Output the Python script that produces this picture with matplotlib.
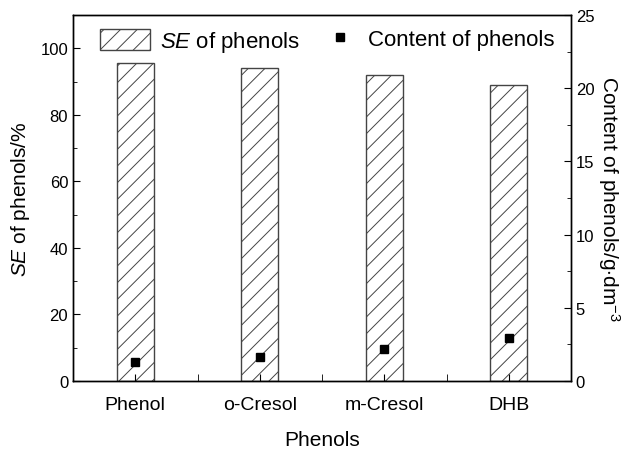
import matplotlib
matplotlib.use("Agg")
import matplotlib.pyplot as plt
import numpy as np
from matplotlib.ticker import MultipleLocator, FixedLocator
from matplotlib.legend_handler import HandlerLine2D

plt.rcParams['font.family'] = ['Liberation Sans', 'DejaVu Sans']
plt.rcParams['mathtext.fontset'] = 'custom'
plt.rcParams['mathtext.rm'] = 'Liberation Sans'
plt.rcParams['mathtext.it'] = 'Liberation Sans:italic'
plt.rcParams['hatch.linewidth'] = 0.7

categories = ['Phenol', 'o-Cresol', 'm-Cresol', 'DHB']
se_values = [95.7, 94.0, 92.0, 89.0]
content_values = [1.3, 1.66, 2.19, 2.94]

fig = plt.figure(figsize=(6.35, 4.52), dpi=100)
ax = fig.add_axes([73/635, 1 - 382/452, (571-73)/635, (382-16)/452])
x = np.arange(1, len(categories) + 1)
bars = ax.bar(x, se_values, width=0.3, color='white', edgecolor='#444444',
              hatch='//', linewidth=1.0, label='$\\it{SE}$ of phenols')
ax.set_xlim(0.5, 4.5)
ax.set_ylim(0, 110)
ax.yaxis.set_major_locator(FixedLocator([0, 20, 40, 60, 80, 100]))
ax.yaxis.set_minor_locator(FixedLocator([10, 30, 50, 70, 90]))
ax.set_xticks(x)
ax.set_xticklabels(categories, fontsize=14)
ax.xaxis.set_minor_locator(FixedLocator([1.5, 2.5, 3.5]))
ax.tick_params(axis='both', which='both', direction='in')
ax.tick_params(axis='y', which='major', length=5, labelsize=12)
ax.tick_params(axis='y', which='minor', length=3)
ax.tick_params(axis='x', which='major', length=5, pad=11)
ax.tick_params(axis='x', which='minor', length=5)
ax.set_xlabel('Phenols', fontsize=15, labelpad=12)
ax.set_ylabel('$\\it{SE}$ of phenols/%', fontsize=15, labelpad=6)

ax2 = ax.twinx()
pts = ax2.plot(x, content_values, 's', color='black', markersize=5.5,
               label='Content of phenols')
ax2.set_ylim(0, 25)
ax2.yaxis.set_major_locator(MultipleLocator(5))
ax2.yaxis.set_minor_locator(MultipleLocator(2.5))
ax2.tick_params(axis='y', which='both', direction='in', labelsize=12)
ax2.tick_params(axis='y', which='major', length=5)
ax2.tick_params(axis='y', which='minor', length=3)
ax2.set_ylabel('Content of phenols/g$\\cdot$dm$^{-3}$', fontsize=15,
               rotation=270, labelpad=20)

for a in (ax, ax2):
    for s in a.spines.values():
        s.set_linewidth(1.0)

top = (382-30)/366
leg1 = ax2.legend([bars], ['$\\it{SE}$ of phenols'], loc='upper left',
                  frameon=False, fontsize=16, handlelength=2.25,
                  handleheight=1.08, handletextpad=0.45, borderpad=0,
                  borderaxespad=0, bbox_to_anchor=((100-73)/498, top))
ax2.add_artist(leg1)
ax2.legend([pts[0]], ['Content of phenols'], loc='upper left',
           frameon=False, fontsize=16, handlelength=1.0, handleheight=0.7,
           handletextpad=0.77, borderpad=0, borderaxespad=0,
           bbox_to_anchor=((329-73)/498, top),
           handler_map={pts[0]: HandlerLine2D(ypad=0.3)})

fig.savefig('out.png', dpi=100)
